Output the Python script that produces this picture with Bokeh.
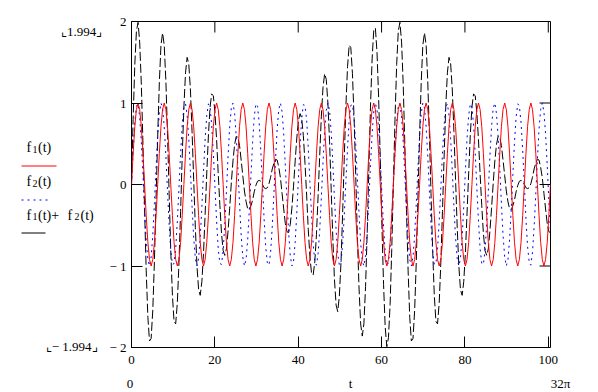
import math
from bokeh.plotting import figure
from bokeh.layouts import row, column
from bokeh.models import FixedTicker, LinearAxis, Range1d, ColumnDataSource
from bokeh.core.properties import value
from bokeh.embed import file_html
from bokeh.resources import INLINE

# ---- data (t from 0 to 32*pi) ----
t = [
    0.00, 0.39, 0.79, 1.18, 1.57, 1.96, 2.36, 2.75, 3.14, 3.53, 3.93, 4.32, 4.71, 5.11, 5.50, 5.89,
    6.28, 6.68, 7.07, 7.46, 7.85, 8.25, 8.64, 9.03, 9.42, 9.82, 10.21, 10.60, 11.00, 11.39, 11.78, 12.17,
    12.57, 12.96, 13.35, 13.74, 14.14, 14.53, 14.92, 15.32, 15.71, 16.10, 16.49, 16.89, 17.28, 17.67, 18.06, 18.46,
    18.85, 19.24, 19.64, 20.03, 20.42, 20.81, 21.21, 21.60, 21.99, 22.38, 22.78, 23.17, 23.56, 23.95, 24.35, 24.74,
    25.13, 25.53, 25.92, 26.31, 26.70, 27.10, 27.49, 27.88, 28.27, 28.67, 29.06, 29.45, 29.85, 30.24, 30.63, 31.02,
    31.42, 31.81, 32.20, 32.59, 32.99, 33.38, 33.77, 34.16, 34.56, 34.95, 35.34, 35.74, 36.13, 36.52, 36.91, 37.31,
    37.70, 38.09, 38.48, 38.88, 39.27, 39.66, 40.06, 40.45, 40.84, 41.23, 41.63, 42.02, 42.41, 42.80, 43.20, 43.59,
    43.98, 44.38, 44.77, 45.16, 45.55, 45.95, 46.34, 46.73, 47.12, 47.52, 47.91, 48.30, 48.69, 49.09, 49.48, 49.87,
    50.27, 50.66, 51.05, 51.44, 51.84, 52.23, 52.62, 53.01, 53.41, 53.80, 54.19, 54.59, 54.98, 55.37, 55.76, 56.16,
    56.55, 56.94, 57.33, 57.73, 58.12, 58.51, 58.90, 59.30, 59.69, 60.08, 60.48, 60.87, 61.26, 61.65, 62.05, 62.44,
    62.83, 63.22, 63.62, 64.01, 64.40, 64.80, 65.19, 65.58, 65.97, 66.37, 66.76, 67.15, 67.54, 67.94, 68.33, 68.72,
    69.12, 69.51, 69.90, 70.29, 70.69, 71.08, 71.47, 71.86, 72.26, 72.65, 73.04, 73.43, 73.83, 74.22, 74.61, 75.01,
    75.40, 75.79, 76.18, 76.58, 76.97, 77.36, 77.75, 78.15, 78.54, 78.93, 79.33, 79.72, 80.11, 80.50, 80.90, 81.29,
    81.68, 82.07, 82.47, 82.86, 83.25, 83.64, 84.04, 84.43, 84.82, 85.22, 85.61, 86.00, 86.39, 86.79, 87.18, 87.57,
    87.96, 88.36, 88.75, 89.14, 89.54, 89.93, 90.32, 90.71, 91.11, 91.50, 91.89, 92.28, 92.68, 93.07, 93.46, 93.86,
    94.25, 94.64, 95.03, 95.43, 95.82, 96.21, 96.60, 97.00, 97.39, 97.78, 98.17, 98.57, 98.96, 99.35, 99.75, 100.14,
    100.53,
]

f1 = [
    0, .38, .71, .92, 1, .92, .71, .38, 0, -.38, -.71, -.92, -1, -.92, -.71, -.38,
    0, .38, .71, .92, 1, .92, .71, .38, 0, -.38, -.71, -.92, -1, -.92, -.71, -.38,
    0, .38, .71, .92, 1, .92, .71, .38, 0, -.38, -.71, -.92, -1, -.92, -.71, -.38,
    0, .38, .71, .92, 1, .92, .71, .38, 0, -.38, -.71, -.92, -1, -.92, -.71, -.38,
    0, .38, .71, .92, 1, .92, .71, .38, 0, -.38, -.71, -.92, -1, -.92, -.71, -.38,
    0, .38, .71, .92, 1, .92, .71, .38, 0, -.38, -.71, -.92, -1, -.92, -.71, -.38,
    0, .38, .71, .92, 1, .92, .71, .38, 0, -.38, -.71, -.92, -1, -.92, -.71, -.38,
    0, .38, .71, .92, 1, .92, .71, .38, 0, -.38, -.71, -.92, -1, -.92, -.71, -.38,
    0, .38, .71, .92, 1, .92, .71, .38, 0, -.38, -.71, -.92, -1, -.92, -.71, -.38,
    0, .38, .71, .92, 1, .92, .71, .38, 0, -.38, -.71, -.92, -1, -.92, -.71, -.38,
    0, .38, .71, .92, 1, .92, .71, .38, 0, -.38, -.71, -.92, -1, -.92, -.71, -.38,
    0, .38, .71, .92, 1, .92, .71, .38, 0, -.38, -.71, -.92, -1, -.92, -.71, -.38,
    0, .38, .71, .92, 1, .92, .71, .38, 0, -.38, -.71, -.92, -1, -.92, -.71, -.38,
    0, .38, .71, .92, 1, .92, .71, .38, 0, -.38, -.71, -.92, -1, -.92, -.71, -.38,
    0, .38, .71, .92, 1, .92, .71, .38, 0, -.38, -.71, -.92, -1, -.92, -.71, -.38,
    0, .38, .71, .92, 1, .92, .71, .38, 0, -.38, -.71, -.92, -1, -.92, -.71, -.38,
    0,
]

f2 = [
    0, .42, .76, .96, .99, .83, .52, .12, -.31, -.68, -.92, -1, -.89, -.62, -.23, .20,
    .59, .87, 1, .94, .71, .35, -.08, -.49, -.81, -.98, -.97, -.79, -.45, -.04, .38, .73,
    .95, .99, .85, .56, .16, -.27, -.65, -.91, -1, -.91, -.65, -.27, .16, .56, .85, .99,
    .95, .73, .38, -.04, -.45, -.79, -.97, -.98, -.81, -.49, -.08, .35, .71, .94, 1, .87,
    .59, .20, -.23, -.62, -.89, -1, -.92, -.68, -.31, .12, .52, .83, .99, .96, .76, .42,
    0, -.42, -.76, -.96, -.99, -.83, -.52, -.12, .31, .68, .92, 1, .89, .62, .23, -.20,
    -.59, -.87, -1, -.94, -.71, -.35, .08, .49, .81, .98, .97, .79, .45, .04, -.38, -.73,
    -.95, -.99, -.85, -.56, -.16, .27, .65, .91, 1, .91, .65, .27, -.16, -.56, -.85, -.99,
    -.95, -.73, -.38, .04, .45, .79, .97, .98, .81, .49, .08, -.35, -.71, -.94, -1, -.87,
    -.59, -.20, .23, .62, .89, 1, .92, .68, .31, -.12, -.52, -.83, -.99, -.96, -.76, -.42,
    0, .42, .76, .96, .99, .83, .52, .12, -.31, -.68, -.92, -1, -.89, -.62, -.23, .20,
    .59, .87, 1, .94, .71, .35, -.08, -.49, -.81, -.98, -.97, -.79, -.45, -.04, .38, .73,
    .95, .99, .85, .56, .16, -.27, -.65, -.91, -1, -.91, -.65, -.27, .16, .56, .85, .99,
    .95, .73, .38, -.04, -.45, -.79, -.97, -.98, -.81, -.49, -.08, .35, .71, .94, 1, .87,
    .59, .20, -.23, -.62, -.89, -1, -.92, -.68, -.31, .12, .52, .83, .99, .96, .76, .42,
    0, -.42, -.76, -.96, -.99, -.83, -.52, -.12, .31, .68, .92, 1, .89, .62, .23, -.20,
    -.59,
]

f1_plus_f2 = [a + b for a, b in zip(f1, f2)]

x_ticks = [0, 20, 40, 60, 80, 100]
y_ticks = [-2, -1, 0, 1, 2]
y_tick_text = {-2: "\u2212 2", -1: "\u2212 1", 0: "0", 1: "1", 2: "2"}
x_lo, x_hi = 0, 32 * math.pi
y_lo, y_hi = -2, 2
x_lo_text, x_hi_text, x_name = "0", "32\u03c0", "t"
y_hi_text, y_lo_text = "\u231e1.994\u231f", "\u231e\u2212 1.994\u231f"

FONT = "Liberation Serif"
RED, BLUE, BLACK = "#ff0000", "#0000ff", "#000000"
DASH_F2, DASH_SUM = "2 4", "9 3"

W, H = 598, 392
LEFT_W = 106          # width of the left strip (legend, limit labels)
BOT_H = 20            # height of the bottom strip (range labels)
FL, FT, FW, FH = 129, 21, 421, 326   # plot frame in page pixels
TICK = 11


def bare(fig):
    fig.grid.visible = False
    fig.outline_line_color = None
    fig.background_fill_color = "white"
    fig.border_fill_color = "white"
    fig.min_border_left = 0
    fig.min_border_right = 0
    fig.min_border_top = 0
    fig.min_border_bottom = 0
    return fig


# ---- left strip: page-pixel coordinates ----
left = bare(figure(width=LEFT_W, height=H, x_range=Range1d(0, LEFT_W), y_range=Range1d(H, 0),
                   output_backend="svg", toolbar_location=None,
                   x_axis_location=None, y_axis_location=None))


def ltxt(s, x, y, size=14, align="left"):
    left.text(x=[x], y=[y], text=[s], text_font=value(FONT), text_font_size=value(f"{size}px"),
              text_align=value(align), text_baseline=value("alphabetic"), text_color=BLACK)


ltxt(y_hi_text, 81, 31, 13, "center")
ltxt(y_lo_text, 97, 346, 13, "right")

ltxt("f", 26, 147)
ltxt("1", 32, 148.5, 10)
ltxt("(t)", 37.5, 147)
left.line(x=[21, 56], y=[165.5, 165.5], line_color=RED, line_width=1)

ltxt("f", 26, 181)
ltxt("2", 32, 182.5, 10)
ltxt("(t)", 37.5, 181)
left.line(x=[21, 50], y=[199.5, 199.5], line_color=BLUE, line_width=1, line_dash=DASH_F2)

ltxt("f", 26, 214.5)
ltxt("1", 32, 216, 10)
ltxt("(t)+", 37.5, 214.5)
ltxt("f", 67, 214.5)
ltxt("2", 74, 216, 10)
ltxt("(t)", 80, 214.5)
left.line(x=[21, 45], y=[232.5, 232.5], line_color=BLACK, line_width=1)

# ---- main plot ----
MW = W - LEFT_W
p = figure(width=MW, height=H - BOT_H,
           x_range=Range1d(x_lo, x_hi), y_range=Range1d(y_lo, y_hi),
           output_backend="svg", toolbar_location=None,
           x_axis_location=None, y_axis_location=None)
p.grid.visible = False
p.background_fill_color = "white"
p.border_fill_color = "white"
p.outline_line_color = BLACK
p.outline_line_width = 1
p.outline_line_alpha = 1
p.min_border_left = FL - LEFT_W
p.min_border_top = FT
p.min_border_right = W - FL - FW
p.min_border_bottom = H - BOT_H - FT - FH


def make_axis(ticks, standoff, overrides=None):
    ax = LinearAxis(ticker=FixedTicker(ticks=ticks))
    ax.axis_line_color = None
    ax.major_tick_in = TICK
    ax.major_tick_out = 0
    ax.major_tick_line_color = BLACK
    ax.major_tick_line_width = 1
    ax.minor_tick_line_color = None
    ax.major_label_text_font = FONT
    ax.major_label_text_font_size = "13px"
    ax.major_label_text_color = BLACK
    ax.major_label_standoff = standoff
    if overrides:
        ax.major_label_overrides = overrides
    return ax


p.add_layout(make_axis(x_ticks, 8), "below")
p.add_layout(make_axis(y_ticks, 5, y_tick_text), "left")

# inward ticks on the top and right frame edges (same tick values)
tick_dy = TICK / FH * (y_hi - y_lo)
tick_dx = TICK / FW * (x_hi - x_lo)
p.segment(x0=x_ticks, y0=[y_hi] * len(x_ticks), x1=x_ticks, y1=[y_hi - tick_dy] * len(x_ticks),
          line_color=BLACK, line_width=1)
p.segment(x0=[x_hi] * len(y_ticks), y0=y_ticks, x1=[x_hi - tick_dx] * len(y_ticks), y1=y_ticks,
          line_color=BLACK, line_width=1)

src = ColumnDataSource(dict(t=t, f1=f1, f2=f2, s=f1_plus_f2))
p.line("t", "s", source=src, line_color=BLACK, line_width=1, line_dash=DASH_SUM)
p.line("t", "f2", source=src, line_color=BLUE, line_width=1, line_dash=DASH_F2)
p.line("t", "f1", source=src, line_color=RED, line_width=1)

# ---- bottom strip: page-pixel coordinates ----
bottom = bare(figure(width=MW, height=BOT_H, x_range=Range1d(LEFT_W, W), y_range=Range1d(H, H - BOT_H),
                     output_backend="svg", toolbar_location=None,
                     x_axis_location=None, y_axis_location=None))
bottom.text(x=[129.5, 350, 560], y=[383, 383, 383], text=[x_lo_text, x_name, x_hi_text],
            text_font=value(FONT), text_font_size=value("13px"), text_align=value("center"),
            text_baseline=value("alphabetic"), text_color=BLACK)

layout = row(column(left), column(p, row(bottom)))
open("out.html", "w").write(file_html(layout, INLINE))
